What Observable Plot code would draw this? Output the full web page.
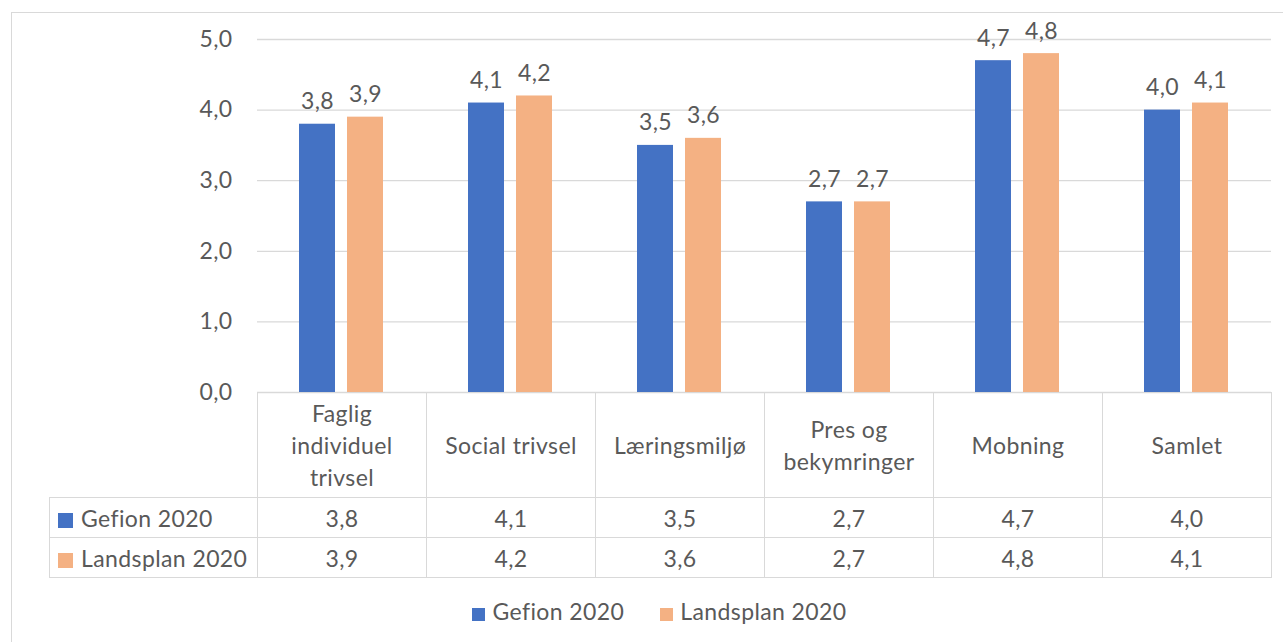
<!DOCTYPE html>
<html>
<head>
<meta charset="utf-8">
<script src="https://cdn.jsdelivr.net/npm/d3@7"></script>
<script src="https://cdn.jsdelivr.net/npm/@observablehq/plot@0.6"></script>
<style>
  html, body { margin:0; padding:0; background:#fff; }
  body { font-family: Lato, "Liberation Sans", sans-serif; color:#595959; }
  #wrap { position:relative; width:1283px; height:642px; overflow:hidden; }
  #frame { position:absolute; left:11px; top:12px; width:1300px; height:700px; border:1px solid #d9d9d9; box-sizing:border-box; }
  #plot { position:absolute; left:0; top:0; }
  #plot svg text { letter-spacing:0.4px; }
  #tbl { position:absolute; left:49px; top:392px; border-collapse:collapse; table-layout:fixed; font-size:23px; letter-spacing:0.4px; color:#595959; }
  #tbl td, #tbl th { border:1px solid #d9d9d9; padding:0; text-align:center; font-weight:normal; }
  #tbl th.empty { border-top:none; border-left:none; }
  #tbl th { height:104px; line-height:32px; }
  #tbl td { height:39px; }
  #tbl td.name { text-align:left; padding-left:8px; white-space:nowrap; }
  .sw { display:inline-block; width:15px; height:15px; margin-right:8px; vertical-align:-1px; }
  #legend { position:absolute; top:597px; left:18px; width:1283px; text-align:center; font-size:23px; letter-spacing:0.4px; color:#595959; }
  #legend span.item { margin:0 18px; }
  #legend .sw { width:13px; height:13px; margin-right:7px; }
</style>
</head>
<body>
<div id="wrap">
  <div id="frame"></div>
  <div id="plot"></div>
</div>
<script>
const categories = ["Faglig individuel trivsel", "Social trivsel", "Læringsmiljø", "Pres og bekymringer", "Mobning", "Samlet"];
const headerLines = [["Faglig", "individuel", "trivsel"], ["Social trivsel"], ["Læringsmiljø"], ["Pres og", "bekymringer"], ["Mobning"], ["Samlet"]];
const series = ["Gefion 2020", "Landsplan 2020"];
const gefion = [3.8, 4.1, 3.5, 2.7, 4.7, 4.0];
const landsplan = [3.9, 4.2, 3.6, 2.7, 4.8, 4.1];
const yTicks = [0, 1, 2, 3, 4, 5];
const colors = ["#4472C4", "#F4B183"];

const fmt = v => v.toFixed(1).replace(".", ",");
const data = [];
categories.forEach((c, i) => {
  data.push({cat: c, series: series[0], value: gefion[i]});
  data.push({cat: c, series: series[1], value: landsplan[i]});
});

const chart = Plot.plot({
  width: 1283,
  height: 642,
  marginLeft: 255,
  marginRight: 11,
  marginTop: 39,
  marginBottom: 250,
  style: {fontFamily: "Lato, 'Liberation Sans', sans-serif", fontSize: "23px", color: "#595959", background: "transparent"},
  fx: {domain: categories, padding: 0, axis: null, label: null},
  x: {domain: series, paddingInner: 0.245, paddingOuter: 0.852, axis: null},
  y: {domain: [0, 5], label: null, axis: null},
  color: {domain: series, range: colors},
  marks: [
    Plot.ruleY(yTicks, {stroke: "#d9d9d9", strokeWidth: 1.3}),
    Plot.axisY({ticks: yTicks, tickSize: 0, tickPadding: 25, tickFormat: fmt, fontSize: 23, fill: "#595959", label: null}),
    Plot.barY(data, {fx: "cat", x: "series", y: "value", fill: "series"}),
    Plot.text(data, {fx: "cat", x: "series", y: "value", text: d => fmt(d.value), lineAnchor: "bottom", dy: -15, fill: "#595959", fontSize: 23})
  ]
});
document.getElementById("plot").appendChild(chart);

// data table aligned to the fx scale
const fxs = chart.scale("fx");
const bw = fxs.bandwidth;
const tbl = document.createElement("table");
tbl.id = "tbl";
const firstW = fxs.apply(categories[0]) - 49;
let html = `<colgroup><col style="width:${firstW}px">` + categories.map(() => `<col style="width:${bw}px">`).join("") + `</colgroup>`;
html += `<tr><th class="empty"></th>` + headerLines.map(ls => `<th>${ls.join("<br>")}</th>`).join("") + `</tr>`;
const rows = [gefion, landsplan];
series.forEach((s, i) => {
  html += `<tr><td class="name"><span class="sw" style="background:${colors[i]}"></span>${s}</td>` +
    rows[i].map(v => `<td>${fmt(v)}</td>`).join("") + `</tr>`;
});
tbl.innerHTML = html;
tbl.style.width = (firstW + bw * categories.length) + "px";
document.getElementById("wrap").appendChild(tbl);

// legend
const lg = document.createElement("div");
lg.id = "legend";
lg.innerHTML = series.map((s, i) => `<span class="item"><span class="sw" style="background:${colors[i]}"></span>${s}</span>`).join("");
document.getElementById("wrap").appendChild(lg);
</script>
</body>
</html>
